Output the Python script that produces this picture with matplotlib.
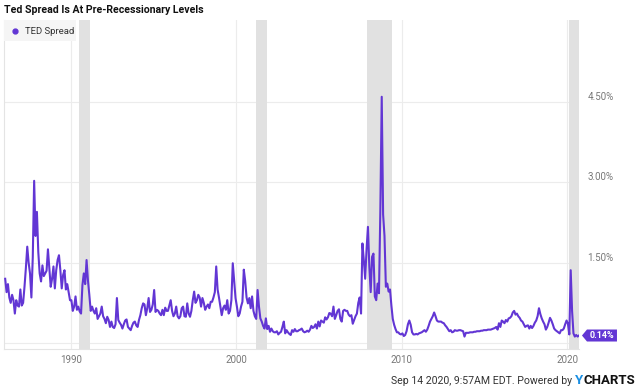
import matplotlib
matplotlib.use("Agg")
import matplotlib.pyplot as plt
import numpy as np

# ---- data (monthly TED spread, %), Jan 1986 .. Sep 2020 ----
start_year = 1986
ted_spread = [
    1.2, 0.95, 1.1, 0.85, 0.75, 0.9, 0.8, 0.55, 0.8, 0.7, 0.68, 1.0,        # 1986
    0.7, 0.75, 1.05, 1.4, 1.8, 1.5, 1.3, 0.85, 1.6, 3.03, 2.0, 2.45,        # 1987
    1.7, 1.3, 1.15, 1.45, 1.25, 1.3, 1.35, 1.75, 1.4, 1.05, 1.2, 1.43,      # 1988
    1.02, 1.36, 1.55, 1.64, 1.36, 1.02, 1.27, 1.36, 1.0, 1.1, 0.95, 0.8,    # 1989
    0.8, 0.6, 0.68, 0.87, 0.62, 0.68, 0.59, 0.55, 1.08, 1.3, 1.1, 1.55,     # 1990
    1.17, 0.9, 0.6, 0.68, 0.6, 0.55, 0.65, 0.45, 0.5, 0.55, 0.68, 0.5,      # 1991
    0.45, 0.37, 0.49, 0.43, 0.3, 0.4, 0.3, 0.28, 0.35, 0.84, 0.43, 0.38,    # 1992
    0.34, 0.27, 0.35, 0.42, 0.44, 0.3, 0.27, 0.24, 0.32, 0.38, 0.4, 0.33,   # 1993
    0.3, 0.43, 0.52, 0.65, 0.74, 0.72, 0.52, 0.65, 0.84, 0.58, 0.62, 0.72,  # 1994
    0.99, 0.58, 0.62, 0.6, 0.55, 0.52, 0.62, 0.52, 0.66, 0.6, 0.6, 0.7,     # 1995
    0.8, 0.6, 0.5, 0.55, 0.68, 0.5, 0.46, 0.5, 0.65, 0.68, 0.5, 0.49,       # 1996
    0.74, 0.55, 0.49, 0.6, 0.8, 0.96, 0.75, 0.8, 0.9, 0.85, 0.68, 0.84,     # 1997
    0.75, 0.62, 0.68, 0.72, 0.65, 0.77, 0.77, 0.85, 0.95, 1.43, 1.0, 0.85,  # 1998
    0.68, 0.52, 0.65, 0.7, 0.62, 0.8, 0.55, 0.6, 0.8, 1.49, 1.16, 0.84,     # 1999
    0.68, 0.5, 0.55, 0.68, 0.77, 1.37, 1.16, 0.85, 0.74, 0.84, 0.65, 0.87,  # 2000
    0.6, 0.5, 0.45, 0.99, 0.68, 0.46, 0.4, 0.32, 0.27, 0.46, 0.26, 0.32,    # 2001
    0.21, 0.27, 0.22, 0.2, 0.2, 0.22, 0.16, 0.19, 0.21, 0.3, 0.4, 0.18,     # 2002
    0.24, 0.2, 0.17, 0.15, 0.24, 0.21, 0.26, 0.22, 0.22, 0.24, 0.25, 0.27,  # 2003
    0.22, 0.2, 0.21, 0.23, 0.21, 0.25, 0.32, 0.28, 0.3, 0.35, 0.27, 0.4,    # 2004
    0.31, 0.42, 0.4, 0.38, 0.48, 0.44, 0.48, 0.56, 0.55, 0.5, 0.68, 0.45,   # 2005
    0.52, 0.6, 0.63, 0.45, 0.4, 0.6, 0.62, 0.6, 0.6, 0.53, 0.5, 0.52,       # 2006
    0.36, 0.43, 0.5, 0.55, 0.75, 0.85, 0.55, 1.86, 1.55, 1.2, 1.75, 2.17,   # 2007
    1.43, 0.95, 1.61, 1.67, 0.87, 0.8, 1.11, 0.93, 2.49, 4.6, 2.4, 2.0,     # 2008
    1.05, 1.11, 0.96, 1.0, 0.7, 0.45, 0.34, 0.26, 0.2, 0.2, 0.17, 0.16,     # 2009
    0.18, 0.13, 0.15, 0.22, 0.35, 0.42, 0.34, 0.2, 0.16, 0.16, 0.17, 0.16,  # 2010
    0.18, 0.19, 0.2, 0.22, 0.24, 0.21, 0.25, 0.32, 0.4, 0.45, 0.5, 0.57,    # 2011
    0.5, 0.42, 0.4, 0.4, 0.4, 0.38, 0.37, 0.33, 0.3, 0.26, 0.22, 0.24,      # 2012
    0.2, 0.21, 0.24, 0.23, 0.23, 0.24, 0.24, 0.23, 0.22, 0.12, 0.19, 0.19,  # 2013
    0.19, 0.2, 0.2, 0.2, 0.21, 0.21, 0.22, 0.22, 0.22, 0.23, 0.23, 0.24,    # 2014
    0.24, 0.24, 0.25, 0.25, 0.25, 0.26, 0.27, 0.28, 0.3, 0.25, 0.37, 0.3,   # 2015
    0.42, 0.4, 0.37, 0.43, 0.4, 0.46, 0.47, 0.5, 0.57, 0.6, 0.53, 0.55,     # 2016
    0.5, 0.47, 0.42, 0.4, 0.35, 0.3, 0.32, 0.33, 0.27, 0.32, 0.28, 0.32,    # 2017
    0.38, 0.42, 0.5, 0.65, 0.54, 0.46, 0.4, 0.35, 0.25, 0.3, 0.38, 0.47,    # 2018
    0.42, 0.35, 0.27, 0.24, 0.22, 0.2, 0.18, 0.24, 0.24, 0.27, 0.35, 0.42,  # 2019
    0.36, 0.16, 1.36, 0.6, 0.18, 0.12, 0.15, 0.12, 0.14,                    # 2020
]
recession_start = [1990.5, 2001.17, 2007.92, 2020.08]
recession_end = [1991.17, 2001.83, 2009.42, 2020.71]
x_ticks = [1990, 2000, 2010, 2020]
y_ticks = [1.5, 3.0, 4.5]
y_tick_labels = ["1.50%", "3.00%", "4.50%"]
series_name = "TED Spread"
title = "Ted Spread Is At Pre-Recessionary Levels"
footer = "Sep 14 2020, 9:57AM EDT. Powered by "

# ---- style ----
W, H = 640, 390
purple = "#6236d4"
grid_c = "#ececec"
band_c = "#e1e1e1"
tick_c = "#777777"
font = ["Roboto", "DejaVu Sans"]

fig = plt.figure(figsize=(W / 100, H / 100), dpi=100)
fig.patch.set_facecolor("white")

def px(x0, y0, x1, y1):
    return [x0 / W, 1 - y1 / H, (x1 - x0) / W, (y1 - y0) / H]

ax = fig.add_axes(px(4, 20, 579, 349))
ax.set_facecolor("white")

vals = np.array(ted_spread)
xs = start_year + (np.arange(len(vals)) + 0.5) / 12.0

for s, e in zip(recession_start, recession_end):
    ax.axvspan(s, e, color=band_c, lw=0, zorder=1)

for t in [0.0] + y_ticks:
    ax.axhline(t, color=grid_c, lw=0.8, zorder=0)
for t in x_ticks:
    ax.axvline(t, color=grid_c, lw=0.8, zorder=0)

ax.plot(xs, vals, color=purple, lw=1.5, zorder=3, solid_joinstyle="round")

ax.set_xlim(1985.97, 2020.71)
ax.set_ylim(-0.112, 6.034)

ax.set_xticks(x_ticks)
ax.set_xticklabels([str(t) for t in x_ticks], fontsize=7, color=tick_c, family=font)
ax.tick_params(axis="x", length=0, pad=4)
ax.yaxis.tick_right()
ax.set_yticks(y_ticks)
ax.set_yticklabels(y_tick_labels, fontsize=7, color=tick_c, family=font)
ax.tick_params(axis="y", length=0, pad=6)
for lab in ax.get_yticklabels():
    lab.set_verticalalignment("bottom")

for sp in ["top", "right"]:
    ax.spines[sp].set_visible(False)
ax.spines["left"].set_color("#e4e4e4")
ax.spines["bottom"].set_color("#e4e4e4")
ax.spines["left"].set_linewidth(0.8)
ax.spines["bottom"].set_linewidth(0.8)

# legend box
from matplotlib.patches import Rectangle, Polygon
fig.patches.append(Rectangle((4 / W, 1 - 41 / H), 72 / W, 21 / H, transform=fig.transFigure,
                             facecolor="#f5f5f5", edgecolor="none", zorder=5))
fig.lines.append(matplotlib.lines.Line2D([15 / W], [1 - 31 / H], transform=fig.transFigure,
                                         marker="o", markersize=3.5, color=purple, lw=0, zorder=6))
fig.text(25 / W, 1 - 31 / H, series_name, fontsize=6.8, color="#333333", va="center",
         ha="left", family=font, zorder=6)

# title
fig.text(4 / W, 1 - 10 / H, title, fontsize=7.6, fontweight="bold", color="#111111",
         va="center", ha="left", family=font)

# last value label
last_x, last_v = xs[-1], vals[-1]
disp = ax.transData.transform((last_x, last_v))
bx = disp[0] + 3
by = disp[1]
inv = fig.transFigure.inverted()
h = 12
w = 30
pts = [(bx, by), (bx + 5, by + h / 2), (bx + 5 + w, by + h / 2), (bx + 5 + w, by - h / 2), (bx + 5, by - h / 2)]
fig.patches.append(Polygon([inv.transform(p) for p in pts], closed=True, transform=fig.transFigure,
                           facecolor=purple, edgecolor="none", zorder=6))
ct = inv.transform((bx + 5 + w / 2, by))
fig.text(ct[0], ct[1], f"{last_v:.2f}%", fontsize=6.5, fontweight="bold", color="white",
         ha="center", va="center", family=font, zorder=7)

# footer
t2 = fig.text(635 / W, 1 - 381 / H, "CHARTS", fontsize=9.5, fontweight="bold", color="#111111",
              ha="right", va="center", family=font)
fig.canvas.draw()
bb = t2.get_window_extent()
t1 = fig.text(bb.x0 / W - 0.0005, 1 - 381 / H, "Y", fontsize=9.5, fontweight="bold", color="#1a8fe3",
              ha="right", va="center", family=font)
fig.canvas.draw()
bb1 = t1.get_window_extent()
fig.text(bb1.x0 / W, 1 - 381 / H, footer, fontsize=7.6, color="#333333",
         ha="right", va="center", family=font)

fig.savefig("out.png", dpi=100, facecolor="white")
